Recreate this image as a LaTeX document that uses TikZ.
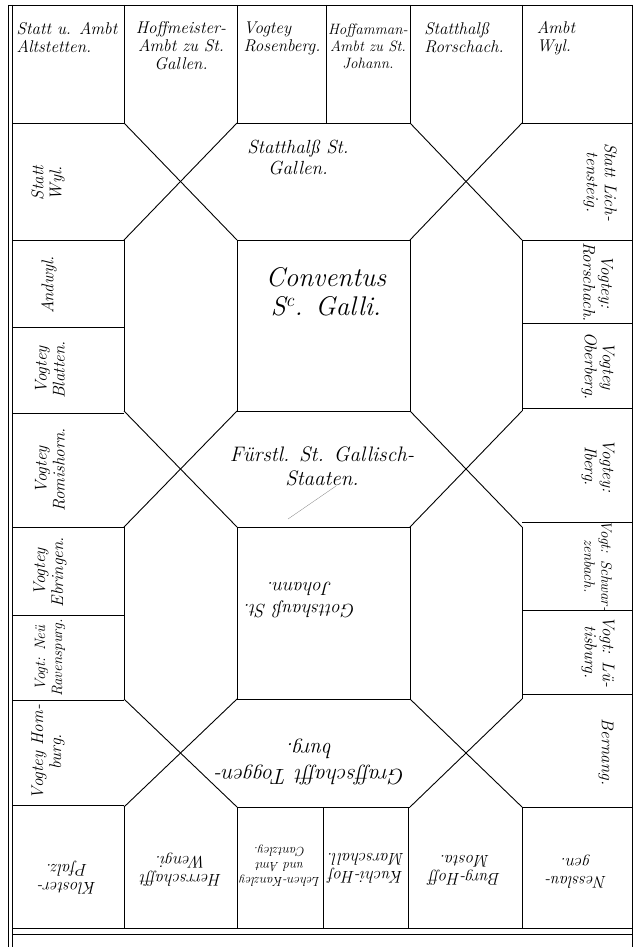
\documentclass[tikz,border=0pt]{standalone}
\usepackage{tikz}
\begin{document}
\begin{tikzpicture}[x=1pt,y=-1pt,line width=0.9pt,
  lbl/.style={font=\fontsize{17}{18}\selectfont\itshape, align=center, inner sep=0pt},
  lblS/.style={font=\fontsize{15}{17}\selectfont\itshape},
  lblL/.style={lbl, rotate=90},
  lblR/.style={lbl, rotate=-90},
  lblD/.style={lbl, rotate=180}]
  \useasboundingbox (0,0) rectangle (635,947);
  % Setup
  \def\xL{12}
  \def\xA{124}
  \def\xB{237}
  \def\xC{410}
  \def\xD{522}
  \def\xR{632}
  \def\yT{5}
  \def\yA{123}
  \def\yB{240}
  \def\yC{411}
  \def\yD{527}
  \def\yE{699}
  \def\yF{807}
  \def\yG{928}

  % Frame
  \draw (8,\yT) -- (\xR,\yT);
  \draw (8,\yT) -- (8,947);
  \draw (\xL,\yT) -- (\xL,947);
  \draw (\xR,\yT) -- (\xR,947);
  \draw (\xL,\yG) -- (\xR,\yG);
  \draw (\xL,934) -- (\xR,934);

  % Top row
  \foreach \x in {\xA,\xB,326,\xC,\xD}
    \draw (\x,\yT) -- (\x,\yA);
  \draw (\xL,\yA) -- (\xA,\yA);
  \draw (\xB,\yA) -- (\xC,\yA);
  \draw (\xD,\yA) -- (\xR,\yA);

  % Bottom row
  \foreach \x in {\xA,\xB,323,408,\xD}
    \draw (\x,\yF) -- (\x,\yG);
  \draw (\xL,805) -- (\xA,805);
  \draw (\xB,\yF) -- (\xC,\yF);
  \draw (\xD,\yF) -- (\xR,\yF);

  % Side columns
  \foreach \y in {\yB,327,413,\yD,615,700}
    \draw (\xL,\y) -- (\xA,\y);
  \foreach \y in {\yB,323,408,522,610,694}
    \draw (\xD,\y) -- (\xR,\y);

  % Inner verticals
  \foreach \x in {\xA,\xB,\xC,\xD} {
    \draw (\x,\yB) -- (\x,\yC);
    \draw (\x,\yD) -- (\x,\yE);
  }
  \draw (\xB,\yB) -- (\xC,\yB);
  \draw (\xB,\yC) -- (\xC,\yC);
  \draw (\xB,\yD) -- (\xC,\yD);
  \draw (\xB,\yE) -- (\xC,\yE);

  % Crossings
  \foreach \ya/\yb in {\yA/\yB,\yC/\yD,\yE/\yF} {
    \draw (\xA,\ya) -- (\xB,\yb);
    \draw (\xB,\ya) -- (\xA,\yb);
    \draw (\xC,\ya) -- (\xD,\yb);
    \draw (\xD,\ya) -- (\xC,\yb);
  }
  \draw[gray, line width=0.3pt] (288,519) -- (336,486);

  % Top row labels
  \node[lbl, align=left] (top1) at (67,38) {Statt u. Ambt\\Altstetten.};
  \node[lbl] (top2) at (181,46) {Hoffmeister-\\Ambt zu St.\\Gallen.};
  \node[lbl, align=left] (top3) at (282,38) {Vogtey\\Rosenberg.};
  \node[lbl, lblS] (top4) at (368,46) {Hoffamman-\\Ambt zu St.\\Johann.};
  \node[lbl, align=left] (top5) at (464,38) {Statthalß\\Rorschach.};
  \node[lbl, align=left] (top6) at (556,38) {Ambt\\Wyl.};

  % Left column labels
  \node[lblL] (left1) at (48,183) {Statt\\Wyl.};
  \node[lblL] (left2) at (49,285) {Andwyl.};
  \node[lblL] (left3) at (50,370) {Vogtey\\Blatten.};
  \node[lblL] (left4) at (50,470) {Vogtey\\Romishorn.};
  \node[lblL] (left5) at (50,572) {Vogtey\\Ebringen.};
  \node[lblL, lblS] (left6) at (50,658) {Vogt: Neü\\Ravenspurg.};
  \node[lblL] (left7) at (48,752) {Vogtey Hom-\\burg.};

  % Right column labels
  \node[lblR] (right1) at (600,182) {Statt Lich-\\tensteig.};
  \node[lblR] (right2) at (598,282) {Vogtey:\\Rorschach.};
  \node[lblR] (right3) at (598,366) {Vogtey\\Oberberg.};
  \node[lblR] (right4) at (598,466) {Vogtey:\\Iberg.};
  \node[lblR, lblS] (right5) at (598,566) {Vogt: Schwar-\\zenbach.};
  \node[lblR] (right6) at (598,652) {Vogt: Lü-\\tisburg.};
  \node[lblR] (right7) at (606,752) {Bernang.};

  % Bottom row labels
  \node[lblD] (bot1) at (67,878) {Kloster-\\Pfalz.};
  \node[lblD] (bot2) at (181,870) {Herrschafft\\Wengi.};
  \node[lblD, font=\fontsize{13}{15}\selectfont\itshape] (bot3) at (280,866) {Lehen-Kanzley\\und Amt\\Cantzley.};
  \node[lblD] (bot4) at (366,868) {Kuchi-Hof\\Marschall.};
  \node[lblD] (bot5) at (465,870) {Burg-Hoff\\Mosta.};
  \node[lblD] (bot6) at (576,872) {Nesslau-\\gen.};

  % Centre labels
  \node[lbl, font=\fontsize{19}{21}\selectfont\itshape] (hexTop) at (298,158) {Statthalß St.\\Gallen.};
  \node[lbl, font=\fontsize{27}{29}\selectfont\itshape] (conv) at (326,292) {Conventus\\S\textsuperscript{c}. Galli.};
  \node[lbl, font=\fontsize{21}{24}\selectfont\itshape] (hexMid) at (322,466) {Fürstl. St. Gallisch-\\Staaten.};
  \node[lblD, font=\fontsize{19}{22}\selectfont\itshape] (sqLow) at (300,600) {Gottshauß St.\\Johann.};
  \node[lblD, font=\fontsize{22}{26}\selectfont\itshape] (hexLow) at (310,762) {Graffschafft Toggen-\\burg.};
\end{tikzpicture}
\end{document}
